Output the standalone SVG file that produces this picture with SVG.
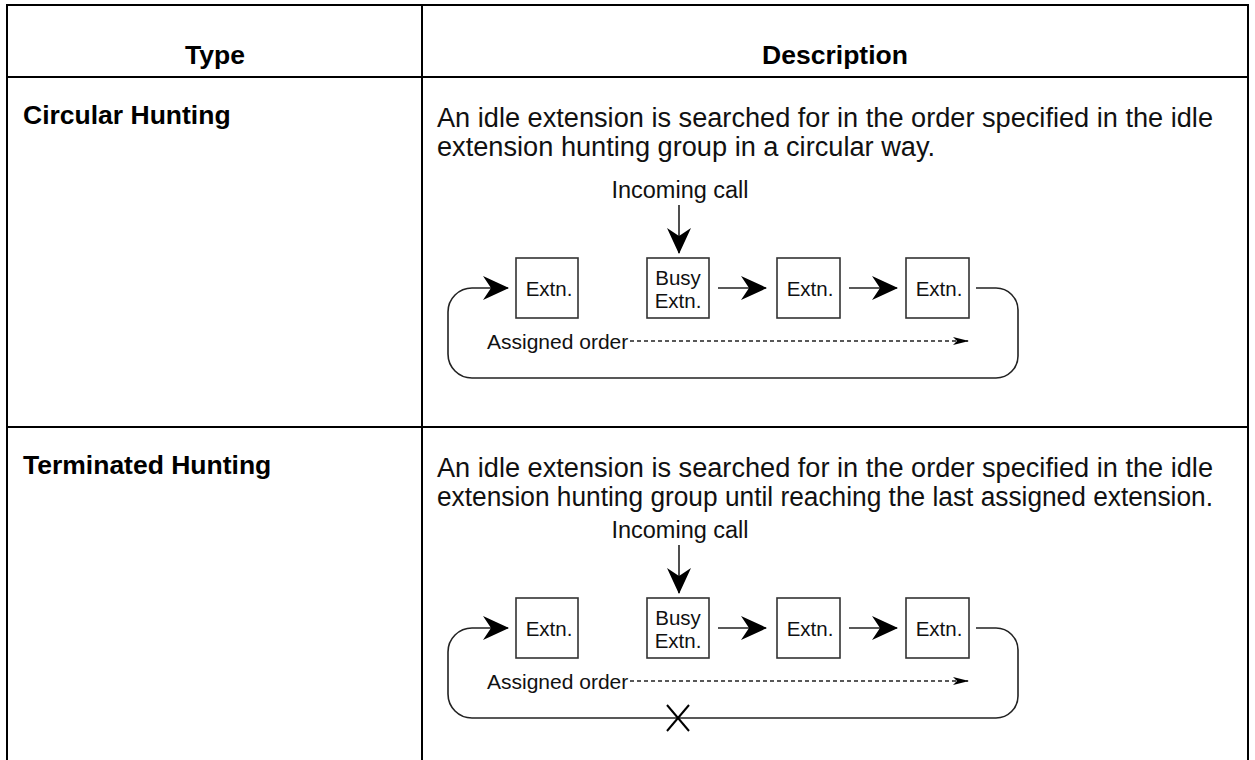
<svg xmlns="http://www.w3.org/2000/svg" width="1255" height="760" viewBox="0 0 1255 760">
<style>
.tbl{stroke:#000;stroke-width:2;fill:none}
.hd{font-family:"Liberation Sans",Arial,sans-serif;font-weight:bold;font-size:26.5px;fill:#000}
.tx{font-family:"Liberation Sans",Arial,sans-serif;font-size:27px;fill:#111}
.lb{font-family:"Liberation Sans",Arial,sans-serif;font-size:23.5px;fill:#111}
.bt{font-family:"Liberation Sans",Arial,sans-serif;font-size:20.5px;fill:#111;text-anchor:middle}
.ao{font-family:"Liberation Sans",Arial,sans-serif;font-size:21px;fill:#111}
.box{fill:#fff;stroke:#333;stroke-width:1.6}
.ln{fill:none;stroke:#222;stroke-width:1.6}
.ar{fill:none;stroke:#222;stroke-width:1.6;marker-end:url(#big)}
.dash{fill:none;stroke:#222;stroke-width:1.3;stroke-dasharray:4 3;marker-end:url(#small)}
.x{stroke:#000;stroke-width:2}
</style>
<defs>
<marker id="big" markerUnits="userSpaceOnUse" viewBox="0 0 26 24" refX="25" refY="12" markerWidth="26" markerHeight="24" orient="auto">
<path d="M0,0 L26,12 L0,24 L8,12 Z" fill="#000"/>
</marker>
<marker id="small" markerUnits="userSpaceOnUse" viewBox="0 0 16 8" refX="15" refY="4" markerWidth="16" markerHeight="8" orient="auto">
<path d="M0,0 L16,4 L0,8 L4,4 Z" fill="#000"/>
</marker>
</defs>

<g id="table">
<path class="tbl" d="M7,760 V5 H1248 V760"/>
<line class="tbl" x1="422" y1="5" x2="422" y2="760"/>
<line class="tbl" x1="7" y1="77" x2="1248" y2="77"/>
<line class="tbl" x1="7" y1="427" x2="1248" y2="427"/>
<text class="hd" x="215" y="64" text-anchor="middle">Type</text>
<text class="hd" x="835" y="64" text-anchor="middle">Description</text>
<text class="hd" x="23" y="124">Circular Hunting</text>
<text class="hd" x="23" y="474">Terminated Hunting</text>
<text class="tx" x="437" y="127" textLength="776" lengthAdjust="spacingAndGlyphs">An idle extension is searched for in the order specified in the idle</text>
<text class="tx" x="437" y="156" textLength="498" lengthAdjust="spacingAndGlyphs">extension hunting group in a circular way.</text>
<text class="tx" x="437" y="477" textLength="776" lengthAdjust="spacingAndGlyphs">An idle extension is searched for in the order specified in the idle</text>
<text class="tx" x="437" y="506" textLength="776" lengthAdjust="spacingAndGlyphs">extension hunting group until reaching the last assigned extension.</text>
</g>

<!-- Diagram 1 -->
<g id="d1-connectors">
<line class="ar" x1="679" y1="205" x2="679" y2="253"/>
<line class="ar" x1="718" y1="288" x2="766" y2="288"/>
<line class="ar" x1="849" y1="288" x2="897" y2="288"/>
<path class="ar" d="M976,288 H996 A22,22 0 0 1 1018,310 V356 A22,22 0 0 1 996,378 H472 A24,24 0 0 1 448,354 V312 A24,24 0 0 1 472,288 H508"/>
<line class="dash" x1="630" y1="341" x2="968" y2="341"/>
</g>
<g id="d1-incoming"><text class="lb" x="680" y="198" text-anchor="middle">Incoming call</text></g>
<g id="d1-ext1"><rect class="box" x="516" y="258" width="62" height="60"/><text class="bt" x="549" y="296">Extn.</text></g>
<g id="d1-busy"><rect class="box" x="647" y="258" width="62" height="60"/><text class="bt" x="678" y="285">Busy</text><text class="bt" x="678" y="308">Extn.</text></g>
<g id="d1-ext3"><rect class="box" x="777" y="258" width="63" height="60"/><text class="bt" x="810" y="296">Extn.</text></g>
<g id="d1-ext4"><rect class="box" x="906" y="258" width="63" height="60"/><text class="bt" x="939" y="296">Extn.</text></g>
<g id="d1-order"><text class="ao" x="487" y="349">Assigned order</text></g>

<!-- Diagram 2 -->
<g id="d2-connectors">
<line class="ar" x1="679" y1="545" x2="679" y2="593"/>
<line class="ar" x1="718" y1="628" x2="766" y2="628"/>
<line class="ar" x1="849" y1="628" x2="897" y2="628"/>
<path class="ar" d="M976,628 H996 A22,22 0 0 1 1018,650 V696 A22,22 0 0 1 996,718 H472 A24,24 0 0 1 448,694 V652 A24,24 0 0 1 472,628 H508"/>
<line class="dash" x1="630" y1="681" x2="968" y2="681"/>
<line class="x" x1="667" y1="705" x2="689" y2="731"/>
<line class="x" x1="689" y1="705" x2="667" y2="731"/>
</g>
<g id="d2-incoming"><text class="lb" x="680" y="538" text-anchor="middle">Incoming call</text></g>
<g id="d2-ext1"><rect class="box" x="516" y="598" width="62" height="60"/><text class="bt" x="549" y="636">Extn.</text></g>
<g id="d2-busy"><rect class="box" x="647" y="598" width="62" height="60"/><text class="bt" x="678" y="625">Busy</text><text class="bt" x="678" y="648">Extn.</text></g>
<g id="d2-ext3"><rect class="box" x="777" y="598" width="63" height="60"/><text class="bt" x="810" y="636">Extn.</text></g>
<g id="d2-ext4"><rect class="box" x="906" y="598" width="63" height="60"/><text class="bt" x="939" y="636">Extn.</text></g>
<g id="d2-order"><text class="ao" x="487" y="689">Assigned order</text></g>
</svg>
